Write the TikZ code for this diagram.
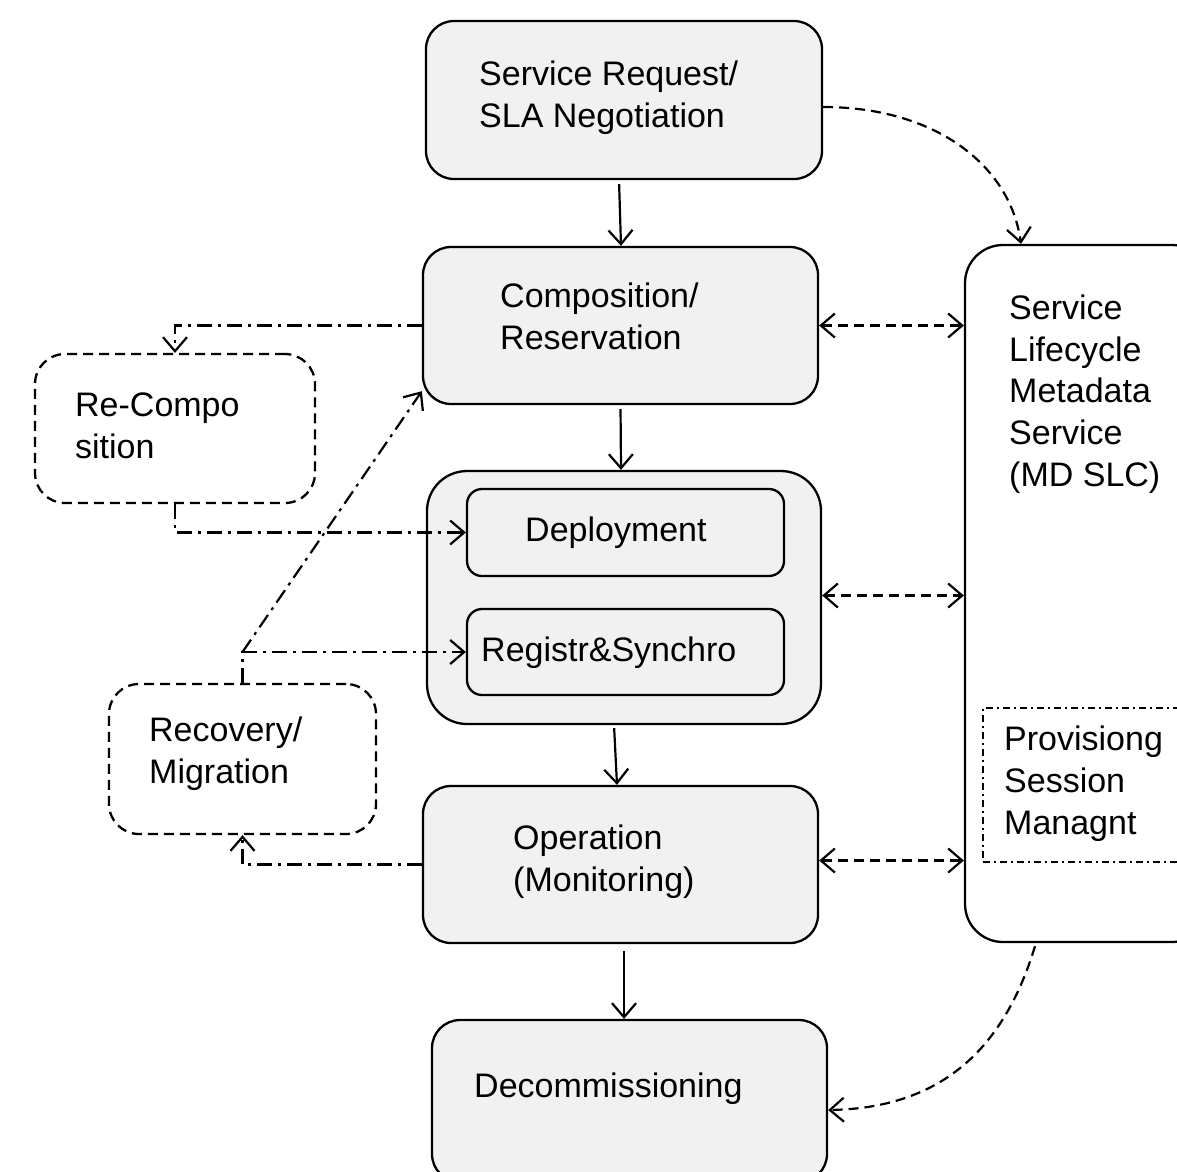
\documentclass[tikz,border=0pt]{standalone}
\usepackage{fontspec}
\setmainfont{Liberation Sans}
\usetikzlibrary{arrows.meta}
\definecolor{boxgray}{HTML}{F1F1F1}
\begin{document}
\begin{tikzpicture}[x=1pt,y=-1pt,
  box/.style={draw, line width=2.3pt, fill=boxgray, rounded corners=28pt, inner sep=0pt},
  ibox/.style={draw, line width=2.3pt, fill=boxgray, rounded corners=15pt, inner sep=0pt},
  dbox/.style={draw, line width=2.3pt, rounded corners=30pt, inner sep=0pt, dash pattern=on 10pt off 6pt},
  txt/.style={inner sep=0pt, anchor=west, align=left, font=\fontsize{34pt}{41.7pt}\selectfont},
  tip/.style={-{Straight Barb[length=14pt,width=24pt]}},
  arr/.style={line width=2.2pt, tip},
  dsh/.style={line width=2.2pt, dash pattern=on 10pt off 6pt},
  dd/.style={line width=2.2pt, dash pattern=on 15pt off 6pt on 3pt off 6pt}
]
\clip (0,0) rectangle (1177,1171);
\fill[white] (0,0) rectangle (1177,1171);

% main boxes
\node[box, minimum width=396pt, minimum height=158pt] (b1) at (624,100) {};
\node[box, minimum width=395pt, minimum height=157pt] (b2) at (620.5,325.5) {};
\node[box, rounded corners=40pt, minimum width=394pt, minimum height=253pt] (b3) at (624,597.5) {};
\node[ibox, minimum width=317pt, minimum height=87pt] (dep) at (625.5,532.5) {};
\node[ibox, minimum width=317pt, minimum height=86pt] (reg) at (625.5,652) {};
\node[box, minimum width=395pt, minimum height=157pt] (b4) at (620.5,864.5) {};
\node[box, minimum width=395pt, minimum height=162pt] (b5) at (629.5,1101) {};
\node[box, fill=white, rounded corners=38pt, minimum width=245pt, minimum height=697pt] (md) at (1087.5,593.5) {};
\node[draw, line width=1.4pt, dash pattern=on 7pt off 4pt on 2pt off 4pt, inner sep=0pt,
      minimum width=217pt, minimum height=154pt] (prov) at (1091.5,785) {};
\node[dbox, minimum width=280pt, minimum height=149pt] (rc) at (175,428.5) {};
\node[dbox, minimum width=267pt, minimum height=150pt] (rm) at (242.5,759) {};

% texts
\node[txt] (t1) at (479,97.5) {Service Request/\\SLA Negotiation};
\node[txt] (t2) at (500,316) {Composition/\\Reservation};
\node[txt] (tdep) at (525,532.5) {Deployment};
\node[txt] (treg) at (481,652.5) {Registr\&Synchro};
\node[txt] (t4) at (513,861.5) {Operation\\(Monitoring)};
\node[txt] (t5) at (474,1088.5) {Decommissioning};
\node[txt] (tmd) at (1009,394) {Service\\Lifecycle\\Metadata\\Service\\(MD SLC)};
\node[txt] (tprov) at (1004,783.5) {Provisiong\\Session\\Managnt};
\node[txt] (trc) at (75,426) {Re-Compo\\sition};
\node[txt] (trm) at (149,753.5) {Recovery/\\Migration};

% solid flow arrows
\draw[arr, shorten <=4pt] ([xshift=-5pt]b1.south) -- ([xshift=0.5pt]b2.north);
\draw[arr, shorten <=4pt] (b2.south) -- ([xshift=-3pt]b3.north);
\draw[arr, shorten <=3pt] ([xshift=-10pt]b3.south) -- ([xshift=-3.5pt]b4.north);
\draw[arr, shorten <=7pt] ([xshift=3.5pt]b4.south) -- ([xshift=-5.5pt]b5.north);

% dashed connectors to metadata service
\draw[dsh, tip] ([yshift=-7pt]b1.east) .. controls (935,107) and (1010,165) .. ([xshift=-66.5pt]md.north);
\draw[dsh, tip] ([xshift=-52.5pt, yshift=-3pt]md.south) .. controls (1005,1045) and (945,1108) .. ([yshift=-9pt]b5.east);
\draw[dsh, {Straight Barb[length=14pt,width=24pt]}-{Straight Barb[length=14pt,width=24pt]}]
  (b2.east) -- (b2.east -| md.west);
\draw[dsh, {Straight Barb[length=14pt,width=24pt]}-{Straight Barb[length=14pt,width=24pt]}]
  ([yshift=2pt]b3.east) -- ([yshift=2pt]b3.east -| md.west);
\draw[dsh, {Straight Barb[length=14pt,width=24pt]}-{Straight Barb[length=14pt,width=24pt]}]
  ([yshift=4pt]b4.east) -- ([yshift=4pt]b4.east -| md.west);

% dash-dot recovery paths
\coordinate (j) at (rm.north |- reg.west);
\draw[dd, tip] (b2.west) -| (rc.north);
\draw[dd, tip] (rc.south) |- (dep.west);
\draw[dd, tip] (rm.north) |- (reg.west);
\draw[dd, tip] (j) -- ([yshift=14pt]b2.south west);
\draw[dd, tip] (b4.west) -| (rm.south);
\end{tikzpicture}
\end{document}
